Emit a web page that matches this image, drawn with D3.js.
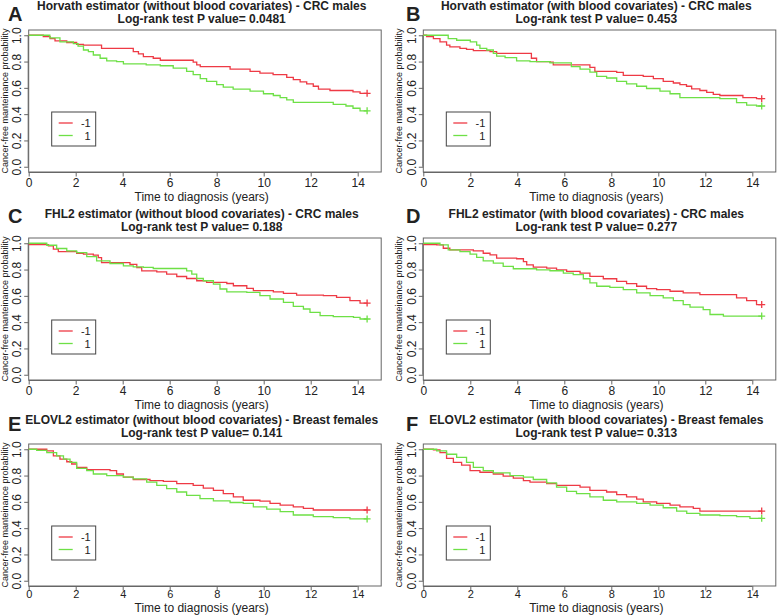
<!DOCTYPE html>
<html>
<head>
<meta charset="utf-8">
<script src="https://cdn.jsdelivr.net/npm/d3@7"></script>
<style>
  html, body { margin: 0; padding: 0; background: #fff; }
  svg text { font-family: "Liberation Sans", Arial, Helvetica, sans-serif; fill: #222; }
</style>
</head>
<body>
<svg id="chart" width="777" height="616"></svg>
<script>
// ---------------- DATA ----------------
const panelLetters = ["A", "B", "C", "D", "E", "F"];
const titles = [
  "Horvath estimator (without blood covariates) - CRC males",
  "Horvath estimator (with blood covariates) - CRC males",
  "FHL2 estimator (without blood covariates) - CRC males",
  "FHL2 estimator (with blood covariates) - CRC males",
  "ELOVL2 estimator (without blood covariates) - Breast females",
  "ELOVL2 estimator (with blood covariates) - Breast females"
];
const pValues = ["0.0481", "0.453", "0.188", "0.277", "0.141", "0.313"];
const groups = ["-1", "1"];
const xTicks = [0, 2, 4, 6, 8, 10, 12, 14];
const yTicks = [0.0, 0.2, 0.4, 0.6, 0.8, 1.0];
const xLabel = "Time to diagnosis (years)";
const yLabel = "Cancer-free manteinance probability";

// Kaplan-Meier step curves: [time (years), survival]
const curveA_neg = [[0,1],[0.62,0.99],[0.91,0.975],[1.12,0.958],[1.62,0.945],[2.04,0.93],[2.33,0.925],[3.1,0.9],[4.45,0.875],[4.67,0.858],[4.88,0.838],[5.3,0.825],[5.6,0.81],[7.0,0.795],[7.15,0.775],[7.3,0.762],[8.57,0.742],[9.42,0.725],[9.84,0.712],[10.4,0.7],[10.98,0.68],[11.26,0.662],[11.55,0.645],[11.83,0.63],[12.11,0.612],[12.33,0.59],[12.82,0.58],[13.8,0.57],[14.1,0.558],[14.4,0.558]];
const curveA_pos = [[0,1],[0.9,0.98],[1.33,0.95],[1.9,0.937],[2.1,0.918],[2.33,0.888],[2.54,0.875],[2.75,0.85],[3.04,0.825],[3.32,0.805],[3.74,0.8],[4.03,0.783],[5.0,0.775],[5.6,0.768],[6.15,0.75],[6.72,0.725],[7.0,0.7],[7.3,0.67],[7.57,0.65],[8.0,0.625],[8.28,0.605],[8.7,0.59],[9.42,0.575],[9.99,0.555],[10.41,0.542],[10.7,0.525],[10.98,0.508],[11.26,0.49],[12.96,0.475],[13.5,0.462],[13.8,0.445],[14.1,0.425],[14.4,0.425]];
const curveB_neg = [[0,1],[0.14,0.99],[0.43,0.975],[0.71,0.95],[0.99,0.925],[1.13,0.912],[1.56,0.9],[1.84,0.893],[2.13,0.883],[2.84,0.875],[3.12,0.862],[4.6,0.825],[4.82,0.8],[5.39,0.795],[5.53,0.775],[7.09,0.755],[7.3,0.725],[8.23,0.718],[8.51,0.695],[9.36,0.688],[9.79,0.67],[10.21,0.65],[10.64,0.637],[10.92,0.625],[11.2,0.612],[11.42,0.592],[11.77,0.58],[12.06,0.565],[12.34,0.55],[12.62,0.542],[13.6,0.525],[14.18,0.518],[14.4,0.518]];
const curveB_pos = [[0,1],[1.06,0.975],[1.42,0.962],[2.0,0.95],[2.27,0.925],[2.41,0.9],[2.7,0.888],[2.98,0.862],[3.12,0.842],[3.48,0.83],[3.97,0.805],[4.54,0.8],[5.39,0.79],[6.3,0.762],[6.67,0.742],[7.09,0.72],[7.38,0.688],[7.8,0.675],[8.23,0.65],[8.65,0.63],[9.08,0.612],[9.5,0.595],[10.07,0.575],[10.5,0.555],[10.92,0.525],[12.62,0.518],[13.33,0.488],[13.76,0.468],[14.18,0.462],[14.4,0.462]];
const curveC_neg = [[0,0.99],[0.84,0.98],[1.05,0.955],[1.26,0.937],[2.04,0.924],[2.33,0.917],[2.75,0.909],[2.96,0.89],[3.1,0.853],[4.31,0.84],[4.6,0.815],[4.81,0.79],[5.45,0.783],[5.87,0.765],[6.3,0.747],[6.72,0.732],[7.15,0.715],[7.57,0.702],[8.43,0.694],[8.71,0.677],[9.28,0.657],[9.56,0.639],[10.41,0.631],[10.84,0.619],[11.4,0.606],[12.54,0.601],[13.1,0.588],[13.67,0.563],[14.1,0.545],[14.4,0.545]];
const curveC_pos = [[0,1],[0.77,0.985],[1.19,0.96],[1.62,0.942],[2.04,0.929],[2.47,0.899],[2.89,0.866],[3.46,0.846],[4.03,0.828],[4.45,0.82],[4.88,0.816],[5.3,0.808],[6.72,0.79],[6.94,0.765],[7.15,0.732],[7.43,0.715],[7.86,0.689],[8.14,0.652],[8.43,0.631],[9.28,0.626],[9.84,0.601],[10.27,0.576],[10.84,0.551],[11.26,0.52],[11.69,0.5],[11.97,0.475],[12.4,0.449],[12.96,0.442],[13.82,0.437],[14.1,0.424],[14.4,0.424]];
const curveD_neg = [[0,0.99],[0.57,0.987],[0.85,0.962],[1.13,0.95],[2.13,0.942],[2.55,0.924],[2.84,0.912],[3.12,0.887],[3.97,0.882],[4.26,0.861],[4.4,0.836],[4.68,0.819],[5.25,0.811],[5.67,0.798],[6.1,0.786],[6.67,0.773],[7.09,0.748],[7.66,0.73],[8.23,0.71],[8.65,0.693],[9.08,0.673],[9.5,0.655],[9.93,0.647],[10.5,0.635],[11.06,0.622],[11.77,0.61],[13.33,0.584],[13.76,0.564],[14.18,0.534],[14.4,0.534]];
const curveD_pos = [[0,1],[0.71,0.987],[1.06,0.95],[1.56,0.937],[1.99,0.917],[2.27,0.892],[2.55,0.866],[2.98,0.849],[3.4,0.824],[3.83,0.806],[4.82,0.798],[5.39,0.791],[5.96,0.773],[6.38,0.761],[6.81,0.73],[7.09,0.698],[7.38,0.673],[7.94,0.665],[8.51,0.647],[9.08,0.622],[9.65,0.602],[10.21,0.584],[10.64,0.564],[11.06,0.534],[11.35,0.514],[11.91,0.496],[12.2,0.458],[12.77,0.446],[14.4,0.446]];
const curveE_neg = [[0,1],[0.77,0.988],[1.05,0.95],[1.33,0.925],[1.62,0.905],[1.83,0.888],[2.04,0.862],[2.47,0.845],[3.46,0.838],[3.74,0.812],[4.03,0.788],[4.45,0.77],[5.16,0.762],[5.73,0.755],[6.3,0.738],[7.0,0.725],[7.43,0.705],[7.86,0.688],[8.28,0.662],[8.71,0.638],[9.13,0.612],[9.84,0.605],[10.27,0.588],[10.7,0.575],[11.26,0.562],[11.69,0.55],[12.11,0.538],[14.4,0.538]];
const curveE_pos = [[0,1],[0.34,0.992],[0.77,0.975],[1.19,0.95],[1.48,0.925],[1.76,0.9],[2.04,0.855],[2.47,0.838],[2.75,0.812],[3.32,0.8],[4.03,0.788],[4.45,0.775],[5.02,0.75],[5.45,0.725],[5.87,0.7],[6.3,0.675],[6.72,0.65],[7.29,0.625],[7.86,0.608],[8.57,0.595],[9.13,0.588],[9.56,0.562],[10.13,0.545],[10.7,0.525],[11.26,0.5],[12.11,0.488],[12.96,0.48],[13.67,0.47],[14.4,0.47]];
const curveF_neg = [[0,1],[0.43,0.995],[0.71,0.975],[0.99,0.93],[1.28,0.9],[1.63,0.88],[1.99,0.838],[2.41,0.825],[2.98,0.812],[3.4,0.795],[3.83,0.78],[4.26,0.762],[4.54,0.75],[5.25,0.738],[5.67,0.725],[6.67,0.712],[7.09,0.688],[7.8,0.675],[8.23,0.655],[8.65,0.638],[9.08,0.62],[9.36,0.6],[9.93,0.588],[10.5,0.575],[10.92,0.562],[11.49,0.55],[11.77,0.53],[14.4,0.53]];
const curveF_pos = [[0,1],[0.57,0.988],[0.99,0.962],[1.42,0.938],[1.84,0.9],[2.13,0.862],[2.55,0.838],[2.98,0.82],[3.69,0.8],[4.26,0.788],[4.68,0.77],[5.25,0.745],[5.67,0.712],[6.1,0.68],[6.52,0.662],[7.09,0.638],[7.66,0.612],[8.23,0.6],[9.08,0.588],[9.65,0.575],[10.21,0.555],[10.78,0.53],[11.21,0.512],[11.77,0.5],[12.62,0.495],[13.33,0.488],[13.9,0.475],[14.4,0.475]];

const curvesNeg = [curveA_neg, curveB_neg, curveC_neg, curveD_neg, curveE_neg, curveF_neg];
const curvesPos = [curveA_pos, curveB_pos, curveC_pos, curveD_pos, curveE_pos, curveF_pos];

// ---------------- LAYOUT / STYLE ----------------
const colX0 = [28.7, 423.3];      // pixel position of x=0 for each column
const rowAxisY = [172, 380, 586]; // pixel position of the x-axis line for each row
const rowTickPad = [15, 15, 12];  // baseline offset of x tick labels below the axis
const rowTickFont = [12, 12, 11];
const rowTitlePad = [29, 29, 26]; // baseline offset of x-axis title below the axis
const letterY = [20.5, 223, 431];
const letterX = [8, 406];
const plotW = 352.5, plotH = 142;
const colors = ["#ee3a45", "#6ee046"];
const boxColor = "#666";
const FONT = '"Liberation Sans", Arial, sans-serif';

const svg = d3.select("#chart");

panelLetters.forEach((letter, i) => {
  const col = i % 2, row = Math.floor(i / 2);
  const x0 = colX0[col], yAxis = rowAxisY[row];
  const x = d3.scaleLinear().domain([0, 15]).range([x0, x0 + plotW]);
  const y = d3.scaleLinear().domain([-0.04, 1.04]).range([yAxis, yAxis - plotH]);
  const g = svg.append("g");
  const cx = x0 + 173;

  // panel letter
  g.append("text").attr("x", letterX[col]).attr("y", letterY[row])
    .attr("font-size", 20).attr("font-weight", "bold").attr("fill", "#111")
    .text(letter);

  // titles
  g.append("text").attr("x", cx).attr("y", yAxis - 162.5).attr("text-anchor", "middle")
    .attr("font-size", 12).attr("font-weight", "bold").text(titles[i]);
  g.append("text").attr("x", cx).attr("y", yAxis - 149).attr("text-anchor", "middle")
    .attr("font-size", 12).attr("font-weight", "bold").text("Log-rank test P value= " + pValues[i]);

  // box
  g.append("rect").attr("x", x(0)).attr("y", y(1.04)).attr("width", x(15) - x(0)).attr("height", y(-0.04) - y(1.04))
    .attr("fill", "none").attr("stroke", boxColor).attr("stroke-width", 1);

  // x axis
  const xAxis = d3.axisBottom(x).tickValues(xTicks).tickFormat(d3.format("d")).tickSize(4.5);
  const gx = g.append("g").attr("transform", `translate(0,${yAxis})`).call(xAxis);
  gx.select(".domain").attr("d", `M${x(0)},0.5H${x(14)}`).attr("stroke", boxColor);
  gx.selectAll(".tick line").attr("stroke", boxColor);
  gx.selectAll(".tick text").attr("font-size", rowTickFont[row]).attr("fill", "#222")
    .attr("font-family", FONT)
    .attr("dy", null).attr("y", rowTickPad[row]);

  // y axis (labels rotated, parallel to axis)
  const yAxisGen = d3.axisLeft(y).tickValues(yTicks).tickFormat(d3.format(".1f")).tickSize(4.5);
  const gy = g.append("g").attr("transform", `translate(${x0},0)`).call(yAxisGen);
  gy.select(".domain").attr("d", `M-0.5,${y(0)}V${y(1)}`).attr("stroke", boxColor);
  gy.selectAll(".tick line").attr("stroke", boxColor);
  gy.selectAll(".tick text")
    .attr("font-size", 12).attr("fill", "#222")
    .attr("font-family", FONT)
    .attr("x", null).attr("dy", null)
    .attr("text-anchor", "middle")
    .attr("transform", "translate(-7.5,0) rotate(-90)")
    .attr("y", 0);

  // axis titles
  g.append("text").attr("x", cx).attr("y", yAxis + rowTitlePad[row]).attr("text-anchor", "middle")
    .attr("font-size", 12).text(xLabel);
  g.append("text")
    .attr("transform", `translate(${x0 - 21},${(y(-0.04) + y(1.04)) / 2}) rotate(-90)`)
    .attr("text-anchor", "middle").attr("font-size", 9).text(yLabel);

  // curves
  const line = d3.line().x(d => x(d[0])).y(d => y(d[1])).curve(d3.curveStepAfter);
  [curvesNeg[i], curvesPos[i]].forEach((c, k) => {
    g.append("path").datum(c).attr("d", line).attr("fill", "none")
      .attr("stroke", colors[k]).attr("stroke-width", 1.3);
    const last = c[c.length - 1];
    g.append("path")
      .attr("d", `M${x(last[0]) - 3.5},${y(last[1])}H${x(last[0]) + 3.5}M${x(last[0])},${y(last[1]) - 3.5}V${y(last[1]) + 3.5}`)
      .attr("stroke", colors[k]).attr("stroke-width", 1.3);
  });

  // legend
  const lx = x0 + 23, ly = yAxis - 60;
  const lg = g.append("g");
  lg.append("rect").attr("x", lx).attr("y", ly).attr("width", 44).attr("height", 34)
    .attr("fill", "#fff").attr("stroke", "#444").attr("stroke-width", 1);
  groups.forEach((gname, k) => {
    const yy = ly + 11 + k * 12.5;
    lg.append("line").attr("x1", lx + 7).attr("x2", lx + 21).attr("y1", yy).attr("y2", yy)
      .attr("stroke", colors[k]).attr("stroke-width", 1.3);
    lg.append("text").attr("x", lx + 39).attr("y", yy + 4).attr("text-anchor", "end")
      .attr("font-size", 11).text(gname);
  });
});
</script>
</body>
</html>
